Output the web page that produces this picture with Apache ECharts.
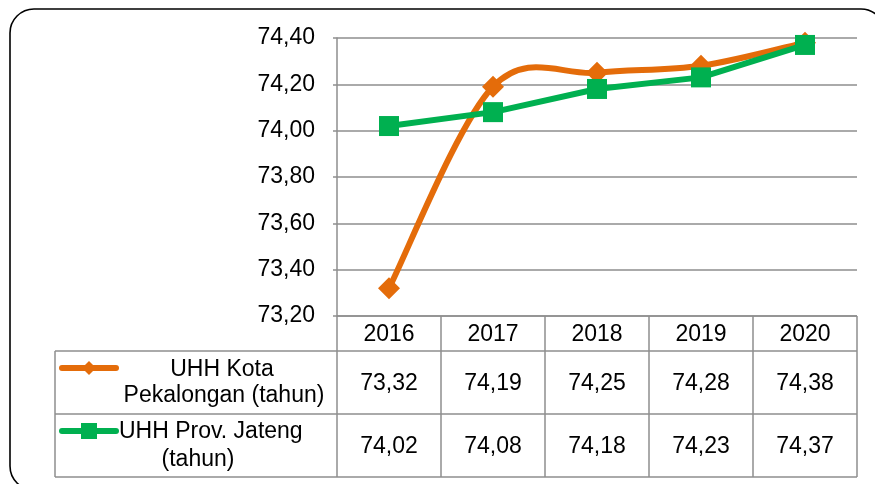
<!DOCTYPE html>
<html><head><meta charset="utf-8">
<script src="https://cdn.jsdelivr.net/npm/echarts@6/dist/echarts.min.js"></script>
<style>html,body{margin:0;padding:0;background:#fff}#c{width:875px;height:484px}</style>
</head><body><div id="c"></div>
<script>
const categories = ['2016', '2017', '2018', '2019', '2020'];
const kotaName = 'UHH Kota Pekalongan (tahun)';
const jatengName = 'UHH Prov. Jateng (tahun)';
const kotaValues = [73.32, 74.19, 74.25, 74.28, 74.38];
const jatengValues = [74.02, 74.08, 74.18, 74.23, 74.37];
const yMin = 73.2, yMax = 74.4, yStep = 0.2;

const FONT = "'Liberation Sans', Arial, sans-serif";
const FS = 23;
const ORANGE = '#E46C0A', GREEN = '#00B050', GRID = '#8E8E8E';
const fmt = v => v.toFixed(2).replace('.', ',');
const n = kotaValues.length;

// Excel-style (Catmull-Rom) smoothed segment from point i to point i+1
function smoothSegment(params, api) {
  const i = params.dataIndex;
  if (i >= n - 1) return null;
  const P = k => api.coord([Math.max(0, Math.min(n - 1, k)), kotaValues[Math.max(0, Math.min(n - 1, k))]]);
  const p0 = P(i - 1), p1 = P(i), p2 = P(i + 1), p3 = P(i + 2);
  return {
    type: 'bezierCurve',
    shape: {
      x1: p1[0], y1: p1[1], x2: p2[0], y2: p2[1],
      cpx1: p1[0] + (p2[0] - p0[0]) / 6, cpy1: p1[1] + (p2[1] - p0[1]) / 6,
      cpx2: p2[0] - (p3[0] - p1[0]) / 6, cpy2: p2[1] - (p3[1] - p1[1]) / 6
    },
    style: {stroke: ORANGE, lineWidth: 6, fill: null, lineCap: 'round'}
  };
}

const chart = echarts.init(document.getElementById('c'), null, {renderer: 'canvas'});
chart.setOption({
  animation: false,
  backgroundColor: '#fff',
  grid: {left: 337, right: 18, top: 38, bottom: 168},
  xAxis: {
    type: 'category', data: categories, boundaryGap: true,
    axisLine: {show: false}, axisTick: {show: false}, axisLabel: {show: false}
  },
  yAxis: {
    type: 'value', min: yMin, max: yMax, interval: yStep,
    axisLine: {show: true, lineStyle: {color: GRID, width: 1.5}},
    axisTick: {show: true, length: 4, lineStyle: {color: GRID, width: 1.5}},
    axisLabel: {formatter: v => fmt(v), color: '#000', fontSize: FS, fontFamily: FONT, margin: 22},
    splitLine: {lineStyle: {color: GRID, width: 1.5}}
  },
  series: [
    {name: kotaName + ' curve', type: 'custom', renderItem: smoothSegment,
     data: kotaValues.map((v, i) => [i, v]), encode: {x: 0, y: 1}, z: 1, silent: true},
    {name: kotaName, type: 'line', data: kotaValues,
     symbol: 'diamond', symbolSize: 22,
     lineStyle: {color: ORANGE, width: 0, opacity: 0}, itemStyle: {color: ORANGE}, z: 2},
    {name: jatengName, type: 'line', data: jatengValues, smooth: false,
     symbol: 'rect', symbolSize: 20,
     lineStyle: {color: GREEN, width: 6}, itemStyle: {color: GREEN}, z: 3}
  ]
});

// data table below the plot, aligned with the category axis
const centers = categories.map(c => chart.convertToPixel({xAxisIndex: 0}, c));
const band = centers[1] - centers[0];
const tLeft = 55, axisX = 337;
const tRight = centers[centers.length - 1] + band / 2;
const yHead = 316, yRow1 = 351, yRow2 = 414, yBot = 477;
const g = [];
const line = (x1, y1, x2, y2) => g.push({type: 'line', shape: {x1, y1, x2, y2},
  style: {stroke: GRID, lineWidth: 1.5}, z: 10});
const text = (t, x, y, align) => g.push({type: 'text', x, y,
  style: {text: t, fill: '#000', font: FS + 'px ' + FONT, textAlign: align || 'center', textVerticalAlign: 'middle'}, z: 11});

line(axisX, yHead, tRight, yHead);
[yRow1, yRow2, yBot].forEach(y => line(tLeft, y, tRight, y));
line(tLeft, yRow1, tLeft, yBot);
line(axisX, yHead, axisX, yBot);
centers.forEach(c => line(c + band / 2, yHead, c + band / 2, yBot));

categories.forEach((c, i) => {
  text(c, centers[i], (yHead + yRow1) / 2 + 1);
  text(fmt(kotaValues[i]), centers[i], (yRow1 + yRow2) / 2 + 1);
  text(fmt(jatengValues[i]), centers[i], (yRow2 + yBot) / 2 + 1);
});

// legend keys
g.push({type: 'line', shape: {x1: 62, y1: 368, x2: 116, y2: 368},
  style: {stroke: ORANGE, lineWidth: 6, lineCap: 'round'}, z: 11});
g.push({type: 'polygon', shape: {points: [[89, 361], [96, 368], [89, 375], [82, 368]]},
  style: {fill: ORANGE}, z: 12});
g.push({type: 'line', shape: {x1: 62, y1: 431, x2: 116, y2: 431},
  style: {stroke: GREEN, lineWidth: 6, lineCap: 'round'}, z: 11});
g.push({type: 'rect', shape: {x: 81, y: 423, width: 16, height: 16},
  style: {fill: GREEN}, z: 12});

text('UHH Kota', 222, 370);
text('Pekalongan (tahun)', 224, 396);
text('UHH Prov. Jateng', 119, 432, 'left');
text('(tahun)', 198, 460);

// outer rounded frame
g.push({type: 'rect', shape: {x: 10, y: 9, width: 875, height: 481, r: 24},
  style: {fill: null, stroke: '#000', lineWidth: 1.6}, z: 20});

chart.setOption({graphic: g});
</script></body></html>
